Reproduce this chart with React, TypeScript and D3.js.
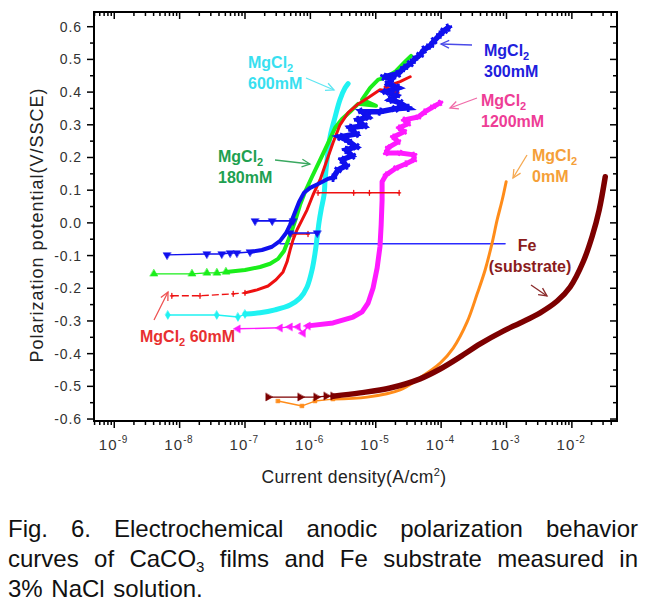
import React from 'react';
import * as d3 from 'd3';

type P = [number, number]; // [current density A/cm2, potential V/SSCE]

const xTickExponents = [-9, -8, -7, -6, -5, -4, -3, -2];
const yTickValues = [0.6, 0.5, 0.4, 0.3, 0.2, 0.1, 0.0, -0.1, -0.2, -0.3, -0.4, -0.5, -0.6];

// MgCl2 300mM (blue)
const mg300Sparse: P[] = [[6.4e-9, -0.098], [2.6e-8, -0.095], [4.4e-8, -0.095], [5.9e-8, -0.092], [7.5e-8, -0.092], [1.19e-7, -0.089]];
const mg300Dense: P[] = [[1.19e-7, -0.089], [1.82e-7, -0.083], [2.59e-7, -0.073], [3.44e-7, -0.055], [4.25e-7, -0.031], [4.89e-7, -0.006], [5.62e-7, 0.025], [6.71e-7, 0.064], [8.0e-7, 0.092], [9.9e-7, 0.107], [1.31e-6, 0.119], [1.87e-6, 0.135], [2.22e-6, 0.138]];
const mg300Scatter: P[] = [[2.22e-6, 0.138], [2.65e-6, 0.162], [3.52e-6, 0.175], [3.05e-6, 0.193], [4.35e-6, 0.205], [3.52e-6, 0.223], [5.0e-6, 0.233], [3.78e-6, 0.251], [2.84e-6, 0.263], [5.0e-6, 0.272], [4.05e-6, 0.291], [6.64e-6, 0.297], [5.37e-6, 0.315], [7.64e-6, 0.324], [6.18e-6, 0.34], [1.16e-5, 0.34], [1.98e-5, 0.349], [3.13e-5, 0.352], [2.36e-5, 0.367], [1.66e-5, 0.377], [2.05e-5, 0.389], [1.44e-5, 0.401], [2.2e-5, 0.413], [1.55e-5, 0.426], [1.78e-5, 0.441], [1.34e-5, 0.447], [2.2e-5, 0.456], [2.72e-5, 0.474], [3.36e-5, 0.487], [3.86e-5, 0.499], [4.77e-5, 0.514], [5.5e-5, 0.53], [6.79e-5, 0.542], [7.8e-5, 0.557], [9.66e-5, 0.576], [1.11e-4, 0.588], [1.28e-4, 0.597]];
const mg300JumpA: P[] = [[1.42e-7, 0.006], [2.6e-7, 0.006], [5.43e-7, 0.006]];
const mg300JumpB: P[] = [[4.89e-7, -0.031], [1.27e-6, -0.031]];
const mg300Long: P[] = [[3.44e-7, -0.064], [9.5e-4, -0.064]];

// MgCl2 180mM (green)
const mg180Sparse: P[] = [[4.05e-9, -0.156], [1.55e-8, -0.156], [2.62e-8, -0.153], [3.73e-8, -0.153], [5.13e-8, -0.15]];
const mg180Dense: P[] = [[5.13e-8, -0.15], [1.0e-7, -0.144], [1.7e-7, -0.135], [2.42e-7, -0.125], [3.2e-7, -0.11], [3.95e-7, -0.086], [4.55e-7, -0.055], [5.25e-7, -0.021], [6.04e-7, 0.015], [6.95e-7, 0.055], [8.3e-7, 0.095], [1.06e-6, 0.141], [1.41e-6, 0.193], [1.87e-6, 0.245], [2.39e-6, 0.291], [3.05e-6, 0.318], [4.05e-6, 0.34], [5.37e-6, 0.364], [1.01e-5, 0.358], [6.18e-6, 0.377], [8.2e-6, 0.413], [1.09e-5, 0.438], [1.39e-5, 0.444], [1.98e-5, 0.462], [2.81e-5, 0.493], [3.47e-5, 0.511]];

// MgCl2 60mM (red)
const mg60Sparse: P[] = [[7.6e-9, -0.223], [2.05e-8, -0.223], [6.6e-8, -0.217], [1.0e-7, -0.214]];
const mg60Dense: P[] = [[1.0e-7, -0.214], [1.53e-7, -0.205], [2.25e-7, -0.193], [2.98e-7, -0.174], [3.82e-7, -0.15], [4.4e-7, -0.119], [4.89e-7, -0.083], [5.43e-7, -0.052], [6.25e-7, -0.021], [7.46e-7, 0.009], [8.9e-7, 0.04], [1.1e-6, 0.086], [1.41e-6, 0.132], [1.8e-6, 0.193], [2.22e-6, 0.245], [2.84e-6, 0.3], [3.78e-6, 0.337], [5.18e-6, 0.361], [7.64e-6, 0.383], [1.16e-5, 0.407], [2.2e-5, 0.398], [1.39e-5, 0.416], [2.36e-5, 0.432], [3.36e-5, 0.447]];
const mg60JumpA: P[] = [[1.31e-6, 0.092], [4.6e-6, 0.092], [8.0e-6, 0.092], [2.28e-5, 0.092]];
const mg60JumpB: P[] = [[5.25e-7, -0.034], [9.2e-7, -0.034]];

// MgCl2 600mM (cyan)
const mg600Sparse: P[] = [[6.6e-9, -0.282], [3.7e-8, -0.282], [7.8e-8, -0.288], [1.0e-7, -0.279]];
const mg600Dense: P[] = [[1.0e-7, -0.279], [1.7e-7, -0.275], [2.88e-7, -0.266], [4.89e-7, -0.251], [6.95e-7, -0.23], [8.9e-7, -0.196], [1.06e-6, -0.144], [1.18e-6, -0.092], [1.27e-6, -0.043], [1.36e-6, 0.003], [1.46e-6, 0.04], [1.62e-6, 0.086], [1.68e-6, 0.132], [1.8e-6, 0.193], [2.0e-6, 0.263], [2.39e-6, 0.324], [2.84e-6, 0.377], [3.4e-6, 0.413], [3.78e-6, 0.426]];

// MgCl2 1200mM (magenta)
const mg1200Sparse: P[] = [[7.8e-8, -0.324], [3.44e-7, -0.321], [4.89e-7, -0.318], [6.47e-7, -0.318], [7.73e-7, -0.337], [9.2e-7, -0.315]];
const mg1200Dense: P[] = [[9.2e-7, -0.315], [2.22e-6, -0.306], [4.5e-6, -0.288], [6.18e-6, -0.272], [7.64e-6, -0.245], [9.1e-6, -0.199], [1.05e-5, -0.138], [1.16e-5, -0.073], [1.21e-5, -0.006], [1.25e-5, 0.07], [1.25e-5, 0.126], [1.44e-5, 0.147], [2.05e-5, 0.168], [2.91e-5, 0.181], [3.86e-5, 0.193], [3.86e-5, 0.208], [2.36e-5, 0.214], [1.44e-5, 0.214], [1.55e-5, 0.23], [2.2e-5, 0.248], [1.85e-5, 0.263], [2.72e-5, 0.279], [2.28e-5, 0.291], [3.13e-5, 0.303], [2.72e-5, 0.315], [4.45e-5, 0.324], [5.69e-5, 0.34], [7.54e-5, 0.355], [9.66e-5, 0.367]];

// MgCl2 0mM (orange)
const mg0Sparse: P[] = [[3.2e-7, -0.545], [7.46e-7, -0.56], [1.18e-6, -0.545], [2.22e-6, -0.539]];
const mg0Dense: P[] = [[2.22e-6, -0.539], [7.38e-6, -0.533], [2.36e-5, -0.511], [4.77e-5, -0.474], [9.66e-5, -0.429], [1.53e-4, -0.383], [2.5e-4, -0.303], [3.56e-4, -0.217], [4.71e-4, -0.144], [6.03e-4, -0.061], [7.19e-4, 0.009], [8.59e-4, 0.07], [9.88e-4, 0.126]];

// Fe substrate (dark red)
const feSparse: P[] = [[2.25e-7, -0.533], [6.95e-7, -0.533], [1.22e-6, -0.533], [1.74e-6, -0.53], [2.22e-6, -0.53]];
const feDense: P[] = [[2.22e-6, -0.53], [5.75e-6, -0.52], [1.66e-5, -0.505], [4.77e-5, -0.477], [9.66e-5, -0.447], [1.95e-4, -0.41], [3.95e-4, -0.37], [8.89e-4, -0.331], [1.62e-3, -0.306], [3.27e-3, -0.275], [5.96e-3, -0.239], [9.42e-3, -0.196], [1.49e-2, -0.119], [2.05e-2, -0.04], [2.62e-2, 0.04], [3.24e-2, 0.141]];

const captionLines = [
  { justify: true, words: [['Fig.'], ['6.'], ['Electrochemical'], ['anodic'], ['polarization'], ['behavior']] },
  { justify: true, words: [['curves'], ['of'], ['CaCO', '3'], ['films'], ['and'], ['Fe'], ['substrate'], ['measured'], ['in']] },
  { justify: false, words: [['3%'], ['NaCl'], ['solution.']] },
];

const FRAME = { left: 94, right: 617, top: 12, bottom: 421 };
const AX_FONT = '"Liberation Sans", Arial, sans-serif';
const CAP_FONT = '"Liberation Sans", Arial, sans-serif';
const LBL_FONT = '"Liberation Sans", Arial, sans-serif';

type Series = { sparse: P[]; dense: P[]; color: string; width: number; marker: string; curve: any; extra?: P[][]; dash?: string };

function Arrow({ x1, y1, x2, y2, color }: { x1: number; y1: number; x2: number; y2: number; color: string }) {
  const a = Math.atan2(y2 - y1, x2 - x1);
  const L = 9, s = 0.45;
  const h1x = x2 - L * Math.cos(a - s), h1y = y2 - L * Math.sin(a - s);
  const h2x = x2 - L * Math.cos(a + s), h2y = y2 - L * Math.sin(a + s);
  return (
    <g stroke={color} strokeWidth={1.3} fill="none">
      <line x1={x1} y1={y1} x2={x2} y2={y2} />
      <polyline points={`${h1x},${h1y} ${x2},${y2} ${h2x},${h2y}`} />
    </g>
  );
}

function MgLabel({ x, y, conc, color }: { x: number; y: number; conc: string; color: string }) {
  return (
    <g fill={color} fontFamily={LBL_FONT} fontWeight="bold" fontSize={16}>
      <text x={x} y={y}>MgCl<tspan fontSize={11} dy={4}>2</tspan></text>
      <text x={x} y={y + 21}>{conc}</text>
    </g>
  );
}

export default function App() {
  const x = d3.scaleLog().domain([4.9e-10, 4.9e-2]).range([FRAME.left, FRAME.right]);
  const y = d3.scaleLinear().domain([-0.606, 0.645]).range([FRAME.bottom, FRAME.top]);
  const lineLin = d3.line<P>().x(d => x(d[0])).y(d => y(d[1]));
  const lineSmooth = d3.line<P>().x(d => x(d[0])).y(d => y(d[1])).curve(d3.curveCatmullRom.alpha(0.5));

  const series: Series[] = [
    { sparse: mg0Sparse, dense: mg0Dense, color: '#ff8c1a', width: 3, marker: 'square', curve: lineSmooth },
    { sparse: feSparse, dense: feDense, color: '#7d0000', width: 5.5, marker: 'right', curve: lineSmooth },
    { sparse: mg1200Sparse, dense: mg1200Dense, color: '#ff1aff', width: 5, marker: 'left', curve: lineLin },
    { sparse: mg600Sparse, dense: mg600Dense, color: '#1ff2f2', width: 5, marker: 'diamond', curve: lineSmooth },
    { sparse: mg180Sparse, dense: mg180Dense, color: '#1aee1a', width: 4, marker: 'up', curve: lineLin },
    { sparse: mg60Sparse, dense: mg60Dense, color: '#ee1010', width: 3, marker: 'plus', curve: lineLin, extra: [mg60JumpA, mg60JumpB], dash: '7 3' },
    { sparse: mg300Sparse, dense: mg300Dense, color: '#1010ee', width: 4, marker: 'down', curve: lineLin, extra: [mg300JumpA, mg300JumpB] },
  ];

  const markerPath = (m: string) => {
    if (m === 'square') return d3.symbol().type(d3.symbolSquare).size(14)() as string;
    if (m === 'diamond') return d3.symbol().type(d3.symbolDiamond).size(22)() as string;
    if (m === 'plus') return 'M0,-2.5L0,2.5M-1.5,0L1.5,0';
    return d3.symbol().type(d3.symbolTriangle).size(26)() as string;
  };
  const markerRot = (m: string) => (m === 'down' ? 180 : m === 'left' ? -90 : m === 'right' ? 90 : 0);
  const fuzzPath = d3.symbol().type(d3.symbolCross).size(38)() as string;

  const minorX: number[] = [];
  for (let e = -10; e <= -2; e++) for (let m = 2; m <= 9; m++) {
    const v = m * Math.pow(10, e);
    if (v > 4.9e-10 && v < 4.9e-2) minorX.push(v);
  }
  const majorX = xTickExponents.map(e => Math.pow(10, e));
  const minorY = d3.range(-11, 13, 2).map(i => i * 0.05);

  // caption layout (justified)
  const canvas = typeof document !== 'undefined' ? document.createElement('canvas') : null;
  const ctx = canvas ? canvas.getContext('2d') : null;
  const capSize = 24, subSize = 15;
  const measure = (t: string, s: number) => {
    if (!ctx) return t.length * s * 0.5;
    ctx.font = `${s}px ${CAP_FONT}`;
    return ctx.measureText(t).width;
  };
  const capLeft = 8, capRight = 638;
  const capBase = [537, 567, 597];
  const capEls: React.ReactNode[] = [];
  captionLines.forEach((ln, li) => {
    const widths = ln.words.map(w => measure(w[0], capSize) + (w[1] ? measure(w[1], subSize) : 0));
    const total = widths.reduce((a, b) => a + b, 0);
    const gap = ln.justify ? (capRight - capLeft - total) / (ln.words.length - 1) : measure(' ', capSize) * 1.3;
    let cx = capLeft;
    ln.words.forEach((w, wi) => {
      capEls.push(
        <text key={`c${li}-${wi}`} x={cx} y={capBase[li]} fontFamily={CAP_FONT} fontSize={capSize} fill="#111">
          {w[0]}{w[1] ? <tspan fontSize={subSize} dy={5}>{w[1]}</tspan> : null}
        </text>
      );
      cx += widths[wi] + gap;
    });
  });

  const mk = (s: Series, p: P, key: string) => (
    <path key={key} d={markerPath(s.marker)} transform={`translate(${x(p[0])},${y(p[1])}) rotate(${markerRot(s.marker)})`}
      fill={s.marker === 'plus' ? 'none' : s.color} stroke={s.color} strokeWidth={s.marker === 'plus' ? 1.3 : 0.5} />
  );

  return (
    <svg width={658} height={609} style={{ position: 'absolute', left: 0, top: 0, background: '#fff' }}>
      <rect x={0} y={0} width={658} height={609} fill="#fff" />
      {/* data */}
      <g fill="none" strokeLinejoin="round" strokeLinecap="round">
        <path d={lineLin(mg300Long) as string} stroke="#2b2bff" strokeWidth={1.6} />
        {series.map((s, i) => (
          <g key={i}>
            <path d={lineLin(s.sparse) as string} stroke={s.color} strokeWidth={1.4} strokeDasharray={s.dash} strokeLinecap="butt" />
            <path d={s.curve(s.dense) as string} stroke={s.color} strokeWidth={s.width} />
            {(s.extra || []).map((e, j) => (
              <path key={j} d={lineLin(e) as string} stroke={s.color} strokeWidth={1.6} />
            ))}
            {s.sparse.map((p, j) => mk(s, p, `m${j}`))}
            {(s.extra || []).map((e, j) => e.map((p, k) => mk(s, p, `e${j}-${k}`)))}
          </g>
        ))}
        <path d={lineLin(mg300Scatter) as string} stroke="#1010ee" strokeWidth={5.5} strokeLinejoin="miter" strokeMiterlimit={4} />
        {mg300Scatter.map((p, j) => (
          <path key={`f${j}`} d={fuzzPath} transform={`translate(${x(p[0])},${y(p[1])}) rotate(${j * 37})`} fill="#1010ee" stroke="none" />
        ))}
        {mg1200Dense.slice(11).map((p, j) => (
          <path key={`g${j}`} d={fuzzPath} transform={`translate(${x(p[0])},${y(p[1])}) rotate(${j * 41}) scale(0.8)`} fill="#ff1aff" stroke="none" />
        ))}
      </g>

      {/* frame */}
      <rect x={FRAME.left} y={FRAME.top} width={FRAME.right - FRAME.left} height={FRAME.bottom - FRAME.top} fill="none" stroke="#000" strokeWidth={2} />
      <g stroke="#000" strokeWidth={1.5}>
        {majorX.map((v, i) => (
          <g key={`mx${i}`}>
            <line x1={x(v)} x2={x(v)} y1={FRAME.bottom} y2={FRAME.bottom + 7} />
            <line x1={x(v)} x2={x(v)} y1={FRAME.top} y2={FRAME.top + 7} />
          </g>
        ))}
        {minorX.map((v, i) => (
          <g key={`nx${i}`}>
            <line x1={x(v)} x2={x(v)} y1={FRAME.bottom} y2={FRAME.bottom + 4} />
            <line x1={x(v)} x2={x(v)} y1={FRAME.top} y2={FRAME.top + 4} />
          </g>
        ))}
        {yTickValues.map((v, i) => (
          <g key={`my${i}`}>
            <line x1={FRAME.left - 7} x2={FRAME.left} y1={y(v)} y2={y(v)} />
            <line x1={FRAME.right - 7} x2={FRAME.right} y1={y(v)} y2={y(v)} />
          </g>
        ))}
        {minorY.map((v, i) => (
          <g key={`ny${i}`}>
            <line x1={FRAME.left - 4} x2={FRAME.left} y1={y(v)} y2={y(v)} />
            <line x1={FRAME.right - 4} x2={FRAME.right} y1={y(v)} y2={y(v)} />
          </g>
        ))}
      </g>
      <g fontFamily={AX_FONT} fontSize={14} fill="#333" letterSpacing={0.9}>
        {yTickValues.map((v, i) => (
          <text key={`ly${i}`} x={FRAME.left - 12} y={y(v)} textAnchor="end" dominantBaseline="central">{v.toFixed(1)}</text>
        ))}
      </g>
      <g fontFamily={AX_FONT} fontSize={15} fill="#333" letterSpacing={1.2}>
        {xTickExponents.map((e, i) => (
          <text key={`lx${i}`} x={x(Math.pow(10, e)) - 1} y={450} textAnchor="middle">
            10<tspan fontSize={10} dy={-7} letterSpacing={0.5}>{String(e)}</tspan>
          </text>
        ))}
      </g>
      <text x={354} y={483} textAnchor="middle" fontFamily={AX_FONT} fontSize={17.5} fill="#222" letterSpacing={0.4}>
        Current density(A/cm<tspan fontSize={11} dy={-7}>2</tspan><tspan dy={7}>)</tspan>
      </text>
      <text transform="translate(43,225) rotate(-90)" textAnchor="middle" fontFamily={AX_FONT} fontSize={18} fill="#222" letterSpacing={1}>
        Polarization potential(V/SSCE)
      </text>

      {/* annotations */}
      <MgLabel x={248} y={68} conc="600mM" color="#38dff0" />
      <Arrow x1={306} y1={78} x2={334} y2={90} color="#5fe6f2" />
      <MgLabel x={218} y={162} conc="180mM" color="#20a050" />
      <Arrow x1={275} y1={160} x2={310} y2={164} color="#3aa860" />
      <MgLabel x={484} y={56} conc="300mM" color="#2020dd" />
      <Arrow x1={472} y1={45} x2={441} y2={44} color="#4a4ae8" />
      <MgLabel x={481} y={106} conc="1200mM" color="#ee3d96" />
      <Arrow x1={477} y1={98} x2={450} y2={108} color="#f06aa8" />
      <MgLabel x={532} y={161} conc="0mM" color="#f5a038" />
      <Arrow x1={527} y1={155} x2={513} y2={178} color="#f5a850" />
      <g fill="#8a1c1c" fontFamily={LBL_FONT} fontWeight="bold" fontSize={16} textAnchor="middle">
        <text x={527} y={251}>Fe</text>
        <text x={530} y={272}>(substrate)</text>
      </g>
      <Arrow x1={531} y1={285} x2={547} y2={296} color="#8a2a2a" />
      <text x={140} y={342} fill="#e83030" fontFamily={LBL_FONT} fontWeight="bold" fontSize={16}>
        MgCl<tspan fontSize={11} dy={4}>2</tspan><tspan dy={-4}> 60mM</tspan>
      </text>
      <Arrow x1={154} y1={320} x2={168} y2={292} color="#ee5050" />

      {capEls}
    </svg>
  );
}
